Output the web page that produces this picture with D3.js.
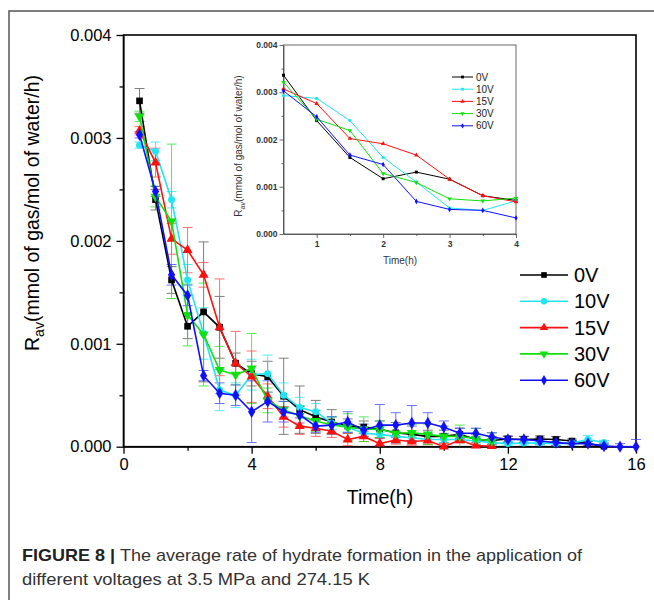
<!DOCTYPE html>
<html>
<head>
<meta charset="utf-8">
<script src="https://cdn.jsdelivr.net/npm/d3@7"></script>
<style>
  body { margin: 0; background: #fff; }
  svg { display: block; font-family: Arial, "Liberation Sans", sans-serif; }
</style>
</head>
<body>
<div id="chart"></div>
<script>
// values are in units of 1e-3 mmol of gas / mol of water / h
const unit = 1e-3;
const times = [0.5, 1, 1.5, 2, 2.5, 3, 3.5, 4, 4.5, 5, 5.5, 6, 6.5, 7, 7.5, 8,
  8.5, 9, 9.5, 10, 10.5, 11, 11.5, 12, 12.5, 13, 13.5, 14, 14.5, 15, 15.5, 16];

const seriesNames = ['0V', '10V', '15V', '30V', '60V'];
const seriesColors = ['#000000', '#22e4f2', '#ff1010', '#10e010', '#1010ff'];
const seriesErrColors = ['#555555', '#22e4f2', '#ff4040', '#20e020', '#4040ff'];

const v0 = [3.36, 2.40, 1.62, 1.17, 1.31, 1.16, 0.81, 0.71, 0.68, 0.49, 0.36, 0.29, 0.24, 0.20, 0.19, 0.17,
  0.135, 0.12, 0.10, 0.10, 0.12, 0.07, 0.06, 0.075, 0.07, 0.075, 0.07, 0.055, 0.03, 0.005];
const e0 = [0.12, 0.10, 0.13, 0.12, 0.68, 0.30, 0.10, 0.12, 0.15, 0.37, 0.23, 0.16, 0.12, 0.07, 0.06, 0.08,
  0.10, 0.08, 0.06, 0.06, 0.06, 0.05, 0.04, 0.03, 0.03, 0.03, 0.03, 0.02, 0.02, 0.02];
const v10 = [2.93, 2.87, 2.40, 1.62, 1.10, 0.55, 0.50, 0.70, 0.71, 0.50, 0.38, 0.34, 0.23, 0.19, 0.13, 0.12,
  0.10, 0.087, 0.07, 0.07, 0.07, 0.055, 0.04, 0.03, 0.035, 0.035, 0.03, 0.035, 0.07, 0.04];
const e10 = [0.03, 0.09, 0.08, 0.15, 0.25, 0.20, 0.12, 0.15, 0.18, 0.12, 0.10, 0.08, 0.06, 0.05, 0.05, 0.04,
  0.04, 0.04, 0.03, 0.03, 0.03, 0.03, 0.03, 0.02, 0.02, 0.02, 0.02, 0.02, 0.04, 0.02];
const v15 = [3.07, 2.76, 2.02, 1.91, 1.67, 1.16, 0.81, 0.68, 0.49, 0.29, 0.20, 0.18, 0.15, 0.07, 0.10, 0.03,
  0.065, 0.05, 0.06, 0.00, 0.065, 0.01, 0.005];
const e15 = [0.04, 0.14, 0.15, 0.22, 0.12, 0.47, 0.31, 0.25, 0.12, 0.10, 0.08, 0.08, 0.06, 0.06, 0.05, 0.05,
  0.04, 0.04, 0.04, 0.03, 0.03, 0.03, 0.03];
const v30 = [3.21, 2.43, 2.19, 1.28, 1.09, 0.745, 0.70, 0.76, 0.45, 0.36, 0.30, 0.25, 0.21, 0.19, 0.17, 0.17,
  0.13, 0.135, 0.12, 0.10, 0.10, 0.077, 0.055];
const e30 = [0.05, 0.10, 0.75, 0.30, 0.50, 0.23, 0.10, 0.34, 0.12, 0.08, 0.10, 0.10, 0.08, 0.13, 0.12, 0.08,
  0.08, 0.08, 0.10, 0.10, 0.11, 0.10, 0.08];
const v60 = [3.03, 2.48, 1.67, 1.47, 0.69, 0.52, 0.50, 0.34, 0.44, 0.34, 0.31, 0.20, 0.21, 0.24, 0.16, 0.21,
  0.21, 0.23, 0.23, 0.19, 0.13, 0.13, 0.095, 0.07, 0.07, 0.055, 0.04, 0.03, 0.03, 0.006, 0, 0];
const e60 = [0.03, 0.05, 0.10, 0.10, 0.05, 0.10, 0.10, 0.30, 0.20, 0.10, 0.08, 0.06, 0.08, 0.10, 0.06, 0.20,
  0.12, 0.17, 0.10, 0.06, 0.05, 0.05, 0.04, 0.03, 0.03, 0.03, 0.03, 0.03, 0.03, 0.03, 0.03, 0.07];

const yTicks = [0, 0.001, 0.002, 0.003, 0.004];
const xTicksMain = [0, 4, 8, 12, 16];
const xTicksInset = [1, 2, 3, 4];
const insetMaxTime = 4;

const values = [v0, v10, v15, v30, v60];
const errors = [e0, e10, e15, e30, e60];
const symbols = [d3.symbolSquare, d3.symbolCircle, d3.symbolTriangle, d3.symbolTriangle, d3.symbolDiamond];
const rotations = [0, 0, 0, 180, 0];

const series = seriesNames.map((name, i) => ({
  name,
  color: seriesColors[i],
  errColor: seriesErrColors[i],
  symbol: symbols[i],
  rot: rotations[i],
  points: values[i].map((v, j) => ({ t: times[j], v: v * unit, e: errors[i][j] * unit }))
}));

const width = 654, height = 600;
const svg = d3.select('#chart').append('svg')
  .attr('width', width).attr('height', height);

// outer frame (figure panel)
svg.append('path')
  .attr('d', 'M9,600 V11 H654')
  .attr('fill', 'none').attr('stroke', '#555').attr('stroke-width', 1.5);

// ---------- main chart ----------
const x = d3.scaleLinear().domain([0, 16]).range([123.5, 636]);
const y = d3.scaleLinear().domain([0, 0.004]).range([446.7, 35]);

const main = svg.append('g');

// minor ticks
main.append('g').attr('transform', 'translate(0,446.7)')
  .call(d3.axisBottom(x).tickValues([2, 6, 10, 14]).tickSize(4).tickFormat(''))
  .call(g => g.select('.domain').remove());
main.append('g').attr('transform', 'translate(123.5,0)')
  .call(d3.axisLeft(y).tickValues([0.0005, 0.0015, 0.0025, 0.0035]).tickSize(4).tickFormat(''))
  .call(g => g.select('.domain').remove());

const xAxis = main.append('g').attr('transform', 'translate(0,446.7)')
  .call(d3.axisBottom(x).tickValues(xTicksMain).tickSize(7).tickSizeOuter(0).tickPadding(5).tickFormat(d3.format('d')));
const yAxis = main.append('g').attr('transform', 'translate(123.5,0)')
  .call(d3.axisLeft(y).tickValues(yTicks).tickSize(7).tickSizeOuter(0).tickPadding(5).tickFormat(d3.format('.3f')));
[xAxis, yAxis].forEach(a => {
  a.selectAll('text').attr('font-size', 16.5).attr('fill', '#000').attr('font-family', 'Arial, "Liberation Sans", sans-serif');
  a.selectAll('line').attr('stroke-width', 1.3);
});
main.selectAll('.tick line').attr('stroke', '#000').attr('stroke-width', 1.3);

// plot box
main.append('rect')
  .attr('x', x(0)).attr('y', y(0.004))
  .attr('width', x(16) - x(0)).attr('height', y(0) - y(0.004))
  .attr('fill', 'none').attr('stroke', '#000').attr('stroke-width', 1.6);

// axis titles
main.append('text')
  .attr('x', 380).attr('y', 504).attr('text-anchor', 'middle')
  .attr('font-size', 19.5).text('Time(h)');

const yTitle = main.append('text')
  .attr('transform', 'translate(39,213) rotate(-90)')
  .attr('text-anchor', 'middle').attr('font-size', 19.5);
yTitle.append('tspan').text('R');
yTitle.append('tspan').attr('font-size', 14).attr('dy', 5).text('av');
yTitle.append('tspan').attr('dy', -5).text('(mmol of gas/mol of water/h)');

const line = d3.line().x(d => x(d.t)).y(d => y(d.v));

series.forEach(s => {
  const g = main.append('g');
  // error bars
  const eb = g.selectAll('.eb').data(s.points).enter().append('g')
    .attr('stroke', s.errColor).attr('stroke-width', 1).attr('opacity', 0.75);
  eb.append('line')
    .attr('x1', d => x(d.t)).attr('x2', d => x(d.t))
    .attr('y1', d => y(d.v + d.e)).attr('y2', d => y(Math.max(0, d.v - d.e)));
  eb.append('line')
    .attr('x1', d => x(d.t) - 5).attr('x2', d => x(d.t) + 5)
    .attr('y1', d => y(d.v + d.e)).attr('y2', d => y(d.v + d.e));
  eb.filter(d => d.v - d.e > 0).append('line')
    .attr('x1', d => x(d.t) - 5).attr('x2', d => x(d.t) + 5)
    .attr('y1', d => y(d.v - d.e)).attr('y2', d => y(d.v - d.e));
});
series.forEach(s => {
  const g = main.append('g');
  g.append('path').datum(s.points).attr('d', line)
    .attr('fill', 'none').attr('stroke', s.color).attr('stroke-width', 1.6);
  g.selectAll('.m').data(s.points).enter().append('path')
    .attr('transform', d => `translate(${x(d.t)},${y(d.v)}) rotate(${s.rot})`)
    .attr('d', d3.symbol().type(s.symbol).size(s.symbol === d3.symbolCircle ? 38 : 44))
    .attr('fill', s.color);
});

// main legend
const legend = main.append('g');
seriesNames.forEach((name, i) => {
  const s = series[i];
  const ly = 275 + i * 26.3;
  legend.append('line').attr('x1', 520).attr('x2', 568).attr('y1', ly).attr('y2', ly)
    .attr('stroke', s.color).attr('stroke-width', 1.6);
  legend.append('path')
    .attr('transform', `translate(544,${ly}) rotate(${s.rot})`)
    .attr('d', d3.symbol().type(s.symbol).size(32)).attr('fill', s.color);
  legend.append('text').attr('x', 574).attr('y', ly + 7).attr('font-size', 20).text(name);
});

// ---------- inset ----------
const xi = d3.scaleLinear().domain([0.5, insetMaxTime]).range([283.5, 516]);
const yi = d3.scaleLinear().domain([0, 0.004]).range([234, 45]);
const inset = svg.append('g');

inset.append('rect')
  .attr('x', xi(0.5)).attr('y', yi(0.004))
  .attr('width', xi(4) - xi(0.5)).attr('height', yi(0) - yi(0.004))
  .attr('fill', '#fff').attr('stroke', '#444').attr('stroke-width', 0.8);

inset.append('g').attr('transform', `translate(${xi(0.5)},0)`)
  .call(d3.axisLeft(yi).tickValues([0.0005, 0.0015, 0.0025, 0.0035]).tickSize(2).tickFormat(''))
  .call(g => g.select('.domain').remove());
inset.append('g').attr('transform', `translate(0,${yi(0)})`)
  .call(d3.axisBottom(xi).tickValues([1.5, 2.5, 3.5]).tickSize(2).tickFormat(''))
  .call(g => g.select('.domain').remove());
const xiAxis = inset.append('g').attr('transform', `translate(0,${yi(0)})`)
  .call(d3.axisBottom(xi).tickValues(xTicksInset).tickSize(4).tickSizeOuter(0).tickPadding(3).tickFormat(d3.format('d')));
const yiAxis = inset.append('g').attr('transform', `translate(${xi(0.5)},0)`)
  .call(d3.axisLeft(yi).tickValues(yTicks).tickSize(4).tickSizeOuter(0).tickPadding(2).tickFormat(d3.format('.3f')));
[xiAxis, yiAxis].forEach(a => {
  a.selectAll('text').attr('font-size', 8.5).attr('fill', '#333').attr('font-weight', 'bold')
    .attr('font-family', 'Arial, "Liberation Sans", sans-serif');
  a.select('.domain').attr('stroke', '#444').attr('stroke-width', 0.8);
});
inset.selectAll('.tick line').attr('stroke', '#444').attr('stroke-width', 0.8);

inset.append('text').attr('x', 400).attr('y', 264).attr('text-anchor', 'middle')
  .attr('font-size', 10).attr('fill', '#333').text('Time(h)');
const yiTitle = inset.append('text')
  .attr('transform', 'translate(242,146) rotate(-90)')
  .attr('text-anchor', 'middle').attr('font-size', 10).attr('fill', '#333');
yiTitle.append('tspan').text('R');
yiTitle.append('tspan').attr('font-size', 7).attr('dy', 2.5).text('av');
yiTitle.append('tspan').attr('dy', -2.5).text('(mmol of gas/mol of water/h)');

const lineI = d3.line().x(d => xi(d.t)).y(d => yi(d.v));
series.forEach(s => {
  const pts = s.points.filter(d => d.t <= insetMaxTime);
  inset.append('path').datum(pts).attr('d', lineI)
    .attr('fill', 'none').attr('stroke', s.color).attr('stroke-width', 1);
  inset.selectAll(null).data(pts).enter().append('path')
    .attr('transform', d => `translate(${xi(d.t)},${yi(d.v)}) rotate(${s.rot})`)
    .attr('d', d3.symbol().type(s.symbol).size(9)).attr('fill', s.color);
});

seriesNames.forEach((name, i) => {
  const s = series[i];
  const ly = 77 + i * 12.2;
  inset.append('line').attr('x1', 452).attr('x2', 473).attr('y1', ly).attr('y2', ly)
    .attr('stroke', s.color).attr('stroke-width', 1);
  inset.append('path').attr('transform', `translate(462.5,${ly}) rotate(${s.rot})`)
    .attr('d', d3.symbol().type(s.symbol).size(8)).attr('fill', s.color);
  inset.append('text').attr('x', 476).attr('y', ly + 3.5).attr('font-size', 10)
    .attr('fill', '#222').text(name);
});

// ---------- caption ----------
const cap1 = svg.append('text').attr('x', 22).attr('y', 561)
  .attr('font-size', 17).attr('fill', '#333')
  .attr('textLength', 560).attr('lengthAdjust', 'spacingAndGlyphs');
cap1.append('tspan').attr('font-weight', 'bold').attr('fill', '#222').text('FIGURE 8 | ');
cap1.append('tspan').text('The average rate of hydrate formation in the application of');
svg.append('text').attr('x', 22).attr('y', 585)
  .attr('font-size', 17).attr('fill', '#333')
  .attr('textLength', 348).attr('lengthAdjust', 'spacingAndGlyphs')
  .text('different voltages at 3.5 MPa and 274.15 K');
</script>
</body>
</html>
